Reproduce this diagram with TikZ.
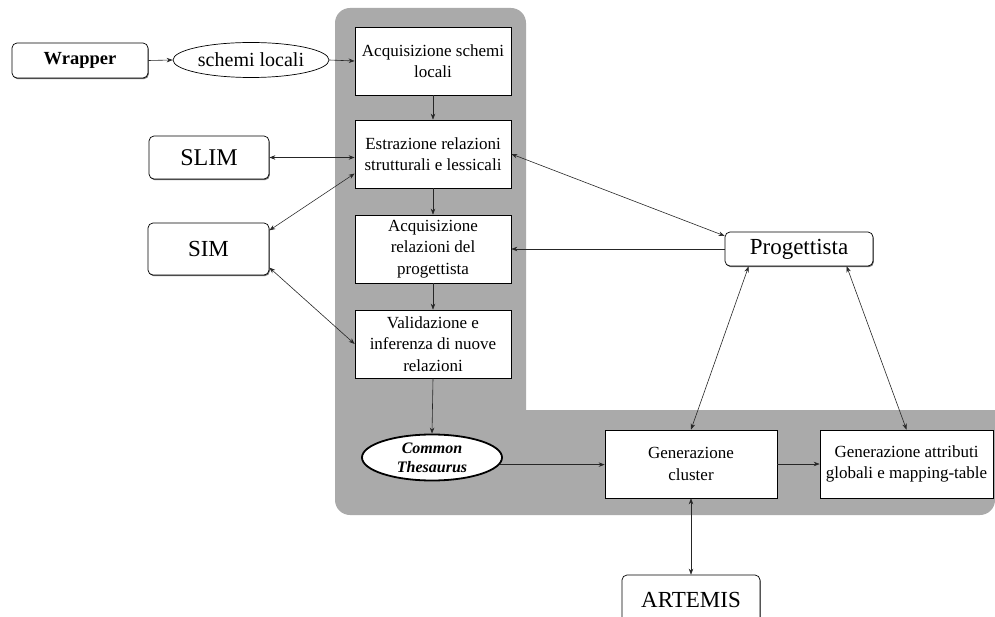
\documentclass[tikz,border=0pt]{standalone}
\usepackage{fontspec}
\setmainfont{Liberation Serif}
\usetikzlibrary{arrows.meta,shapes.geometric,shadows}
\definecolor{panelgray}{RGB}{170,170,170}
\tikzset{
  stage/.style={draw=black, line width=0.7pt, fill=white, minimum width=156pt, minimum height=68pt,
    align=center, font=\fontsize{17}{21.5}\selectfont, inner sep=1pt},
  wide/.style={stage, minimum width=172pt},
  agent/.style={draw=black, line width=0.7pt, fill=white, rounded corners=5pt, align=center,
    font=\fontsize{23}{26}\selectfont,
    drop shadow={shadow xshift=0.8pt, shadow yshift=-1.2pt, fill=black!55, opacity=1}},
  oval/.style={ellipse, draw=black, fill=white, inner sep=0pt},
  link/.style={draw=black!85, line width=0.6pt, -{Stealth[length=6pt,width=4.5pt]}},
  both/.style={link, {Stealth[length=6pt,width=4.5pt]}-{Stealth[length=6pt,width=4.5pt]}}
}
\begin{document}
\begin{tikzpicture}[x=1pt,y=-1pt]
\useasboundingbox (0,0) rectangle (995,617);
% L-shaped background panel
\fill[panelgray] (526,200) [rounded corners=15pt] |- (335,8) |- (995,515)
  [sharp corners] -- (995,410) -| (526,200) -- cycle;

% process stages
\node[stage] (acq) at (433,61) {Acquisizione schemi\\locali};
\node[stage] (estr) at (433,154) {Estrazione relazioni\\strutturali e lessicali};
\node[stage] (acqrel) at (433,249) {Acquisizione\\relazioni del\\progettista};
\node[stage] (valid) at (433,344) {Validazione e\\inferenza di nuove\\relazioni};
\node[oval, line width=1.8pt, minimum width=140pt, minimum height=46pt,
  font=\fontsize{16}{19}\selectfont\bfseries\itshape, align=center] (ct) at (432,457.5) {Common\\Thesaurus};
\node[wide] (gc) at (691,464) {Generazione\\cluster};
\node[wide, minimum width=173pt] (ga) at (906.5,464) {Generazione attributi\\globali e mapping-table};

% external actors
\node[agent, minimum width=136pt, minimum height=35pt, font=\fontsize{18.5}{22}\selectfont\bfseries] (wrap) at (80,60.5) {Wrapper};
\node[oval, line width=0.7pt, minimum width=156pt, minimum height=35pt, font=\fontsize{20}{24}\selectfont] (sl) at (251,60) {schemi locali};
\node[agent, minimum width=120pt, minimum height=43pt, font=\fontsize{24}{26}\selectfont] (slim) at (209,157.5) {SLIM};
\node[agent, minimum width=121pt, minimum height=52pt] (sim) at (208.5,249) {SIM};
\node[agent, minimum width=148pt, minimum height=34pt] (prog) at (799,249) {Progettista};
\node[agent, minimum width=138pt, minimum height=50pt] (art) at (691,600) {ARTEMIS};

% connectors
\draw[link] (wrap.east) -- (sl.west);
\draw[link] (sl.east) -- (acq.west);
\draw[link] (acq.south) -- (estr.north);
\draw[link] (estr.south) -- (acqrel.north);
\draw[link] (acqrel.south) -- (valid.north);
\draw[link] (valid.south) -- (ct.north);
\draw[link] (ct.-6) -- (ct.-6 -| gc.west);
\draw[link] (gc.east) -- (ga.west);
\draw[both] (gc.south) -- (art.north);
\draw[both] (slim.east) -- (slim.east -| estr.west);
\draw[both] (sim.17) -- (estr.194);
\draw[both] (sim.-17) -- (valid.west);
\draw[both] (estr.east) -- (prog.170);
\draw[link] (prog.west) -- (acqrel.east);
\draw[both] (prog.199) -- (gc.north);
\draw[both] (prog.-20) -- (ga.north);
\end{tikzpicture}
\end{document}
